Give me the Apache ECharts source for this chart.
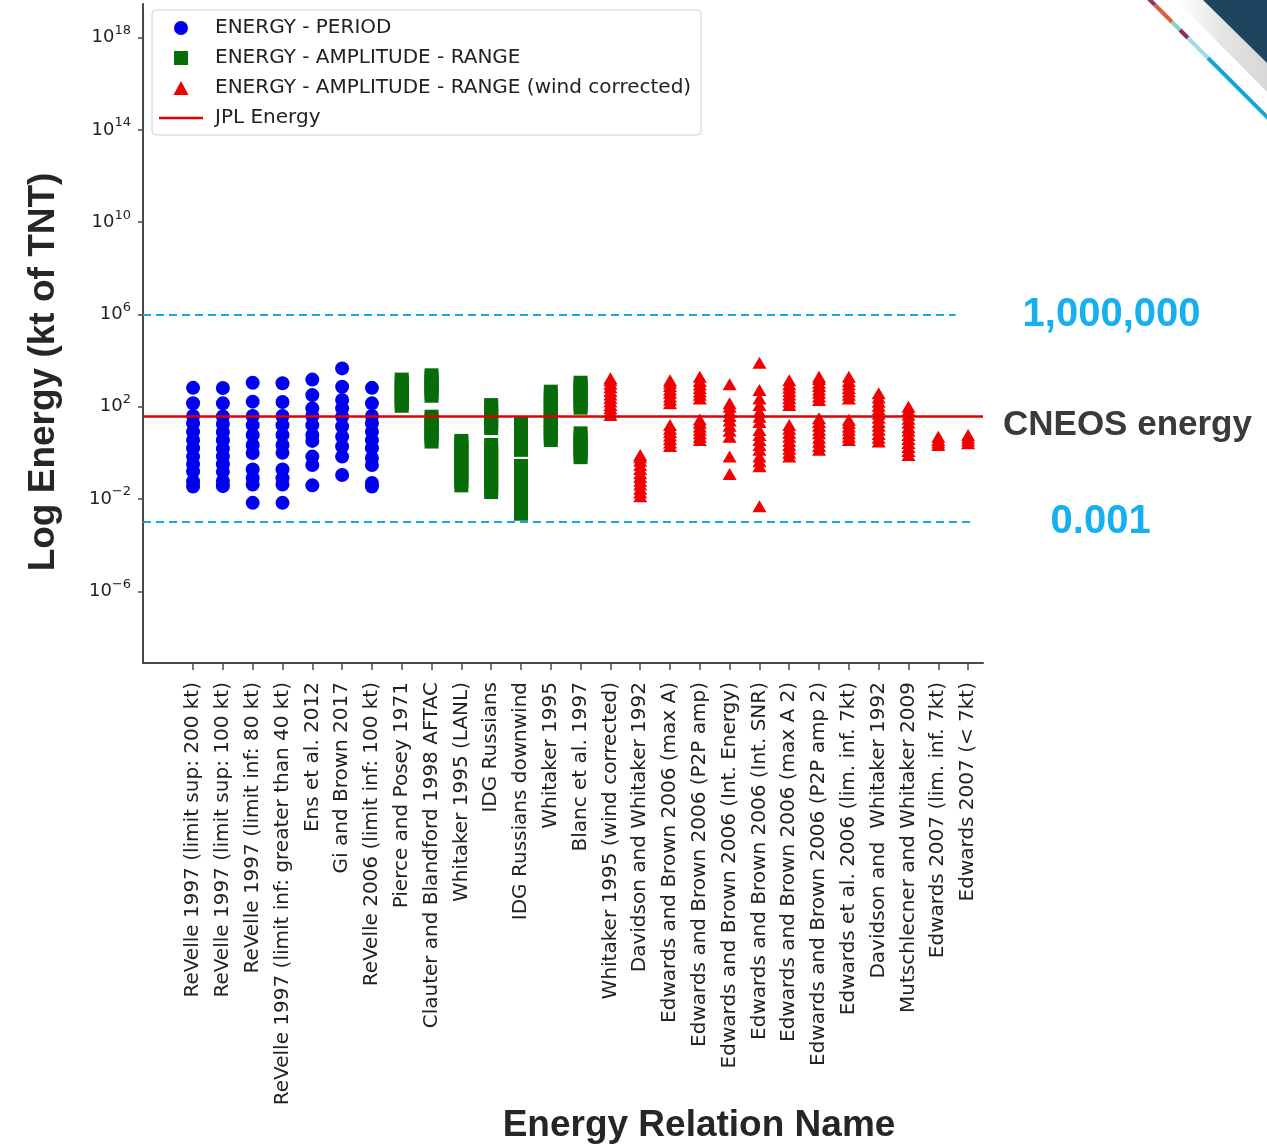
<!DOCTYPE html>
<html>
<head>
<meta charset="utf-8">
<title>Energy relations</title>
<script src="https://cdn.jsdelivr.net/npm/echarts@6/dist/echarts.min.js"></script>
<style>
  html, body { margin: 0; padding: 0; background: #ffffff; }
  #chart { width: 1267px; height: 1146px; }
</style>
</head>
<body>
<div id="chart"></div>
<script>
// Relation names along the x axis
const categories = [
  'ReVelle 1997 (limit sup: 200 kt)',
  'ReVelle 1997 (limit sup: 100 kt)',
  'ReVelle 1997 (limit inf: 80 kt)',
  'ReVelle 1997 (limit inf: greater than 40 kt)',
  'Ens et al. 2012',
  'Gi and Brown 2017',
  'ReVelle 2006 (limit inf: 100 kt)',
  'Pierce and Posey 1971',
  'Clauter and Blandford 1998 AFTAC',
  'Whitaker 1995 (LANL)',
  'IDG Russians',
  'IDG Russians downwind',
  'Whitaker 1995',
  'Blanc et al. 1997',
  'Whitaker 1995 (wind corrected)',
  'Davidson and Whitaker 1992',
  'Edwards and Brown 2006 (max A)',
  'Edwards and Brown 2006 (P2P amp)',
  'Edwards and Brown 2006 (Int. Energy)',
  'Edwards and Brown 2006 (Int. SNR)',
  'Edwards and Brown 2006 (max A 2)',
  'Edwards and Brown 2006 (P2P amp 2)',
  'Edwards et al. 2006 (lim. inf. 7kt)',
  'Davidson and  Whitaker 1992',
  'Mutschlecner and Whitaker 2009',
  'Edwards 2007 (lim. inf. 7kt)',
  'Edwards 2007 (< 7kt)'
];

// Energy estimates (kt of TNT), one list per relation.
// Period-based relations: categories 0-6
const periodEnergy = [
  [660, 141, 40, 19, 8.3, 3.6, 1.6, 0.69, 0.33, 0.155, 0.058, 0.035],
  [650, 140, 38, 18, 8, 3.5, 1.5, 0.7, 0.32, 0.15, 0.06, 0.036],
  [1100, 166, 40, 16, 6, 2.2, 0.98, 0.19, 0.081, 0.042, 0.0068],
  [1050, 160, 40, 16, 6, 2.2, 1.0, 0.19, 0.08, 0.042, 0.0068],
  [1500, 320, 85, 40, 16, 6, 3.3, 0.69, 0.3, 0.039],
  [4600, 740, 195, 85, 37, 14, 5, 1.9, 0.69, 0.11],
  [660, 140, 40, 19, 8.3, 3.6, 1.6, 0.6, 0.3, 0.05, 0.035]
];
const periodStart = 0;

// Amplitude-range relations: categories 7-13
const amplitudeEnergy = [
  [110, 150, 200, 280, 400, 550, 800, 1100, 1500],
  [3.1, 4.5, 6.5, 9, 13, 19, 27, 37, 300, 420, 600, 850, 1200, 1700, 2300],
  [0.039, 0.06, 0.09, 0.14, 0.22, 0.33, 0.5, 0.75, 1.1, 1.7, 2.5, 3.3],
  [0.02, 0.03, 0.045, 0.07, 0.1, 0.16, 0.25, 0.38, 0.6, 0.9, 1.4, 2.2, 12, 18, 27, 40, 60, 85, 118],
  [0.0023, 0.0035, 0.0055, 0.0085, 0.013, 0.02, 0.032, 0.05, 0.08, 0.12, 0.18, 0.27, 1.35, 2, 3, 4.5, 7, 10, 14, 19],
  [3.6, 5.5, 8, 12, 18, 27, 40, 60, 90, 135, 200, 300, 450],
  [0.65, 0.95, 1.4, 2, 3, 4.5, 7, 91, 130, 190, 280, 400, 580, 800, 1100]
];
const amplitudeStart = 7;

// Wind-corrected amplitude-range relations: categories 14-26
const windCorrectedEnergy = [
  [44, 60, 85, 120, 170, 240, 340, 480, 700, 1000, 1400, 1700],
  [0.013, 0.019, 0.028, 0.042, 0.062, 0.09, 0.13, 0.2, 0.3, 0.45, 0.65, 0.81],
  [2, 2.8, 4, 5.6, 8, 11, 16, 141, 200, 280, 400, 560, 800, 1100, 1400],
  [3.6, 5, 7, 10, 14, 20, 28, 230, 330, 460, 650, 920, 1300, 2000],
  [0.12, 0.69, 5, 9, 15, 25, 40, 60, 100, 141, 950],
  [0.0048, 0.26, 0.43, 0.69, 1.35, 2.2, 3.6, 6, 9.8, 22, 37, 61, 118, 230, 525, 8000],
  [0.69, 1, 1.5, 2.2, 3.3, 5, 7.5, 11, 16, 118, 170, 240, 340, 480, 680, 950, 1400],
  [1.35, 2, 3, 4.5, 7, 10, 15, 22, 32, 195, 280, 400, 560, 800, 1100, 1600, 2000],
  [3.6, 5, 7, 10, 14, 20, 27, 230, 330, 460, 650, 920, 1300, 2000],
  [3.1, 4.5, 6.5, 10, 15, 22, 33, 50, 75, 110, 165, 250, 380],
  [0.81, 1.2, 1.8, 2.7, 4, 6, 9, 13, 20, 30, 45, 68, 100],
  [2.2, 2.8, 3.6, 5],
  [2.6, 3.4, 4.5, 6]
];
const windStart = 14;

// Reference energies (kt)
const jplEnergy = 40;
const upperBound = 1000000;
const lowerBound = 0.001;

// Log-axis ticks (powers of ten) and axis range in decades
const yTickExponents = [-6, -2, 2, 6, 10, 14, 18];
const yRange = [-9.11, 19.46];
const xRange = [-1.68, 26.5];

const xTickValues = categories.map((_, i) => i);

function toPoints(groups, start) {
  const pts = [];
  groups.forEach((vals, i) => {
    vals.forEach(v => pts.push([start + i, Math.log10(v)]));
  });
  return pts;
}

const chart = echarts.init(document.getElementById('chart'), null, { renderer: 'canvas' });

const axisColor = '#4a4a4a';
const textColor = '#222222';
const cyan = '#17a9d9';

const option = {
  animation: false,
  backgroundColor: '#ffffff',
  grid: { left: 143, top: 4, width: 840, height: 659, containLabel: false },
  legend: {
    orient: 'vertical',
    left: 152,
    top: 10,
    padding: [8, 10, 7, 7],
    itemWidth: 44,
    itemHeight: 14,
    itemGap: 10,
    symbolKeepAspect: true,
    backgroundColor: 'rgba(255,255,255,0.85)',
    borderColor: '#d0d0d0',
    borderWidth: 1,
    borderRadius: 4,
    textStyle: {
      fontFamily: 'DejaVu Sans',
      fontSize: 20,
      lineHeight: 20,
      color: textColor,
      padding: [0, 0, 0, 7]
    },
    data: [
      { name: 'ENERGY - PERIOD', icon: 'path://M6.5,0A6.5,6.5,0,1,1,6.49,0Z' },
      { name: 'ENERGY - AMPLITUDE - RANGE', icon: 'path://M0,0H12V12H0Z' },
      { name: 'ENERGY - AMPLITUDE - RANGE (wind corrected)', icon: 'path://M6.5,0L13,12H0Z' },
      { name: 'JPL Energy', icon: 'path://M0,0H44V2.5H0Z' }
    ]
  },
  xAxis: {
    type: 'value',
    min: xRange[0],
    max: xRange[1],
    splitLine: { show: false },
    axisLine: { show: true, onZero: false, lineStyle: { color: axisColor, width: 2 } },
    axisTick: { show: true, customValues: xTickValues, length: 7, lineStyle: { color: axisColor, width: 1.5 } },
    axisLabel: {
      customValues: xTickValues,
      rotate: 90,
      margin: 19,
      fontFamily: 'DejaVu Sans',
      fontSize: 20,
      color: textColor,
      formatter: v => categories[Math.round(v)]
    }
  },
  yAxis: {
    type: 'value',
    min: yRange[0],
    max: yRange[1],
    splitLine: { show: false },
    axisLine: { show: true, onZero: false, lineStyle: { color: axisColor, width: 2 } },
    axisTick: { show: true, customValues: yTickExponents, length: 5, lineStyle: { color: axisColor, width: 1.5 } },
    axisLabel: {
      customValues: yTickExponents,
      margin: 12,
      color: textColor,
      formatter: v => '{b|10}{s|' + String(v).replace('-', '\u2212') + '}',
      rich: {
        b: { fontFamily: 'DejaVu Sans', fontSize: 18, color: textColor },
        s: { fontFamily: 'DejaVu Sans', fontSize: 13, color: textColor, padding: [0, 0, 14, 0] }
      }
    }
  },
  series: [
    {
      name: 'ENERGY - PERIOD',
      type: 'scatter',
      symbol: 'circle',
      symbolSize: 14,
      itemStyle: { color: '#0000f0', opacity: 1 },
      data: toPoints(periodEnergy, periodStart),
      z: 3
    },
    {
      name: 'ENERGY - AMPLITUDE - RANGE',
      type: 'scatter',
      symbol: 'rect',
      symbolSize: 14,
      itemStyle: { color: '#086c08', opacity: 1 },
      data: toPoints(amplitudeEnergy, amplitudeStart),
      z: 3
    },
    {
      name: 'ENERGY - AMPLITUDE - RANGE (wind corrected)',
      type: 'scatter',
      symbol: 'triangle',
      symbolSize: [14, 12],
      itemStyle: { color: '#f00000', opacity: 1 },
      data: toPoints(windCorrectedEnergy, windStart),
      z: 3
    },
    {
      name: 'JPL Energy',
      type: 'line',
      symbol: 'none',
      showSymbol: false,
      data: [],
      lineStyle: { color: '#e00000', width: 2.5 },
      itemStyle: { color: '#e00000' },
      z: 4,
      markLine: {
        silent: true,
        symbol: 'none',
        animation: false,
        data: [
          {
            yAxis: Math.log10(jplEnergy),
            lineStyle: { color: '#e00000', width: 2.5, type: 'solid' },
            label: {
              show: true,
              position: 'end',
              distance: 20,
              formatter: '\nCNEOS energy',
              fontFamily: 'Liberation Sans',
              fontWeight: 'bold',
              fontSize: 35,
              lineHeight: 19,
              color: '#3a3a3a'
            }
          },
          [
            {
              coord: [xRange[0], Math.log10(upperBound)],
              lineStyle: { color: cyan, width: 2, type: [8, 5] },
              label: {
                show: true,
                position: 'end',
                distance: 67,
                formatter: '1,000,000',
                fontFamily: 'Liberation Sans',
                fontWeight: 'bold',
                fontSize: 40,
                color: '#16aff0'
              }
            },
            { coord: [25.58, Math.log10(upperBound)] }
          ],
          [
            {
              coord: [xRange[0], Math.log10(lowerBound)],
              lineStyle: { color: cyan, width: 2, type: [8, 5] },
              label: {
                show: true,
                position: 'end',
                distance: 78,
                formatter: '0.001',
                fontFamily: 'Liberation Sans',
                fontWeight: 'bold',
                fontSize: 40,
                color: '#16aff0'
              }
            },
            { coord: [26.15, Math.log10(lowerBound)] }
          ]
        ]
      }
    }
  ],
  graphic: [
    // axis titles
    {
      type: 'text',
      x: 44, y: 372,
      rotation: Math.PI / 2,
      style: {
        text: 'Log Energy (kt of TNT)',
        font: 'bold 37px "Liberation Sans", Arial, sans-serif',
        fill: '#262626',
        align: 'center',
        verticalAlign: 'middle'
      }
    },
    {
      type: 'text',
      x: 699, y: 1126,
      style: {
        text: 'Energy Relation Name',
        font: 'bold 37px "Liberation Sans", Arial, sans-serif',
        fill: '#262626',
        align: 'center',
        verticalAlign: 'middle'
      }
    },
    // corner ribbon
    {
      type: 'polygon',
      silent: true,
      shape: { points: [[1176, 0], [1203, 0], [1267, 63], [1267, 92]] },
      style: {
        fill: new echarts.graphic.LinearGradient(0, 0, 1, 0, [
          { offset: 0, color: 'rgba(235,235,235,0.0)' },
          { offset: 0.5, color: 'rgba(225,225,225,0.9)' },
          { offset: 1, color: 'rgba(215,215,215,1)' }
        ])
      }
    },
    {
      type: 'polygon',
      silent: true,
      shape: { points: [[1203, 0], [1267, 0], [1267, 63]] },
      style: { fill: '#1f445f' }
    },
    { type: 'line', silent: true, shape: { x1: 1148, y1: -2, x2: 1155, y2: 5 }, style: { stroke: '#8b3a6c', lineWidth: 4 } },
    { type: 'line', silent: true, shape: { x1: 1155, y1: 5, x2: 1172, y2: 22 }, style: { stroke: '#d6613d', lineWidth: 4 } },
    { type: 'line', silent: true, shape: { x1: 1172, y1: 22, x2: 1180, y2: 30 }, style: { stroke: '#8fd2bf', lineWidth: 4 } },
    { type: 'line', silent: true, shape: { x1: 1180, y1: 30, x2: 1188, y2: 38 }, style: { stroke: '#8a2e68', lineWidth: 4 } },
    { type: 'line', silent: true, shape: { x1: 1188, y1: 38, x2: 1208, y2: 58 }, style: { stroke: '#a2dbea', lineWidth: 4 } },
    { type: 'line', silent: true, shape: { x1: 1208, y1: 58, x2: 1269, y2: 119 }, style: { stroke: '#10a6d6', lineWidth: 4 } }
  ]
};

chart.setOption(option);
</script>
</body>
</html>
